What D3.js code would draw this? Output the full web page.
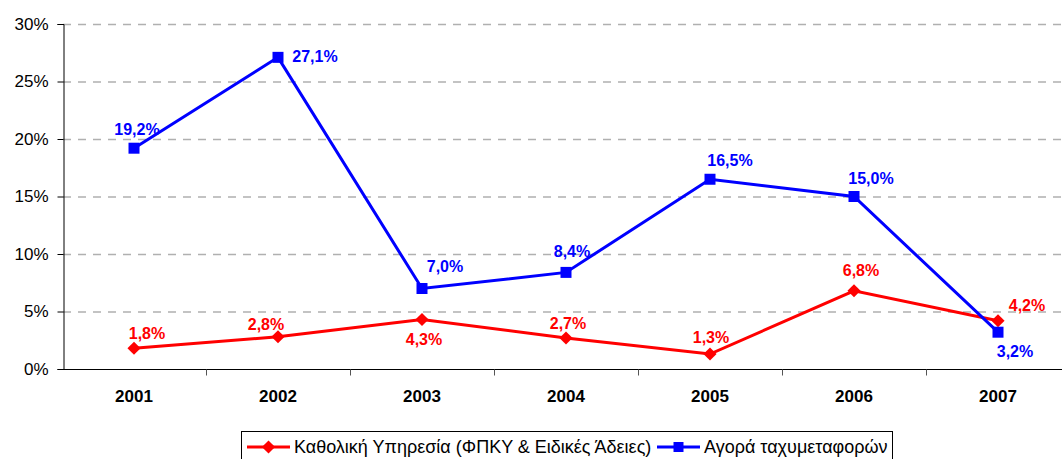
<!DOCTYPE html>
<html>
<head>
<meta charset="utf-8">
<script src="https://cdn.jsdelivr.net/npm/d3@7"></script>
<style>
  body { margin: 0; background: #fff; }
  svg { display: block; font-family: Arial, "Liberation Sans", sans-serif; }
</style>
</head>
<body>
<svg id="chart"></svg>
<script>
const years = ['2001', '2002', '2003', '2004', '2005', '2006', '2007'];
const universalService = [1.8, 2.8, 4.3, 2.7, 1.3, 6.8, 4.2];
const courierMarket = [19.2, 27.1, 7.0, 8.4, 16.5, 15.0, 3.2];
const yTicks = [0, 5, 10, 15, 20, 25, 30];
const seriesNames = ['Καθολική Υπηρεσία (ΦΠΚΥ & Ειδικές Άδειες)', 'Αγορά ταχυμεταφορών'];

// label nudges (dx, dy from marker), like the hand-placed excel labels
const redLabelShift = [[13, -15], [-12, -12], [2, 20], [2, -15], [1, -17], [7, -20], [29, -15]];
const blueLabelShift = [[3, -19], [37, -1], [23, -22], [6, -21], [20, -19], [17, -18], [17, 19]];

const width = 1062, height = 459;
const margin = { top: 24, left: 63, bottom: 369 };

const svg = d3.select('#chart')
    .attr('width', width)
    .attr('height', height);

const x = d3.scaleBand()
    .domain(years)
    .range([62, 1070])
    .padding(0);

const y = d3.scaleLinear()
    .domain([0, 30])
    .range([margin.bottom, margin.top]);

const fmt = (v) => d3.format('.1f')(v).replace('.', ',') + '%';

// gridlines
svg.append('g')
    .selectAll('line')
    .data(yTicks.filter((d) => d > 0))
    .enter()
    .append('line')
    .attr('x1', margin.left)
    .attr('x2', width)
    .attr('y1', (d) => y(d) + 0.5)
    .attr('y2', (d) => y(d) + 0.5)
    .style('stroke', '#b0b0b0')
    .style('stroke-width', 1.3)
    .style('stroke-dasharray', '8,7');

// y axis
const yAxis = svg.append('g')
    .attr('transform', `translate(${margin.left + 0.5},0)`)
    .call(d3.axisLeft(y).tickValues(yTicks).tickSize(6).tickPadding(9).tickFormat((d) => d + '%'));
yAxis.select('.domain').attr('stroke', '#000');
yAxis.selectAll('text')
    .attr('font-size', 17)
    .attr('font-family', 'Arial, "Liberation Sans", sans-serif')
    .attr('fill', '#000');

// x axis
const xAxis = svg.append('g')
    .attr('transform', `translate(0,${margin.bottom + 0.5})`)
    .call(d3.axisBottom(x).tickSize(0).tickPadding(20));
xAxis.select('.domain').remove();
xAxis.append('line')
    .attr('x1', margin.left)
    .attr('x2', width)
    .attr('stroke', '#000');
xAxis.selectAll('.tick text')
    .attr('font-size', 17)
    .attr('font-weight', 'bold')
    .attr('font-family', 'Arial, "Liberation Sans", sans-serif')
    .attr('fill', '#000');
xAxis.selectAll('.boundary')
    .data(years.slice(1))
    .enter()
    .append('line')
    .attr('class', 'boundary')
    .attr('x1', (d) => Math.round(x(d)) + 0.5)
    .attr('x2', (d) => Math.round(x(d)) + 0.5)
    .attr('y1', 0)
    .attr('y2', 6)
    .attr('stroke', '#555');

const cx = (i) => x(years[i]) + x.bandwidth() / 2;

const line = d3.line()
    .x((d, i) => cx(i))
    .y((d) => y(d));

const diamond = d3.symbol().type(d3.symbolDiamond2).size(110);

const drawSeries = (values, color, markerPath, shifts) => {
    const g = svg.append('g');
    g.append('path')
        .datum(values)
        .attr('d', line)
        .attr('fill', 'none')
        .attr('stroke', color)
        .attr('stroke-width', 3);
    g.selectAll('.marker')
        .data(values)
        .enter()
        .append('path')
        .attr('class', 'marker')
        .attr('d', markerPath)
        .attr('transform', (d, i) => `translate(${cx(i)},${y(d)})`)
        .attr('fill', color);
    g.selectAll('.lbl')
        .data(values)
        .enter()
        .append('text')
        .attr('class', 'lbl')
        .attr('x', (d, i) => cx(i) + shifts[i][0])
        .attr('y', (d, i) => y(d) + shifts[i][1])
        .attr('dy', '0.35em')
        .attr('text-anchor', 'middle')
        .attr('font-size', 16)
        .attr('font-weight', 'bold')
        .attr('fill', color)
        .text((d) => fmt(d));
};

drawSeries(universalService, '#ff0000', diamond, redLabelShift);
drawSeries(courierMarket, '#0000ff', 'M-5.5,-5.5H5.5V5.5H-5.5Z', blueLabelShift);

// legend
const legend = svg.append('g');
legend.append('rect')
    .attr('x', 241.5)
    .attr('y', 431.5)
    .attr('width', 651)
    .attr('height', 40)
    .attr('fill', '#fff')
    .attr('stroke', '#000');

const legendItems = [
    { name: seriesNames[0], color: '#ff0000', marker: diamond, x0: 247 },
    { name: seriesNames[1], color: '#0000ff', marker: 'M-5,-5H5V5H-5Z', x0: 657 }
];
legendItems.forEach((it) => {
    legend.append('line')
        .attr('x1', it.x0)
        .attr('x2', it.x0 + 43)
        .attr('y1', 447)
        .attr('y2', 447)
        .attr('stroke', it.color)
        .attr('stroke-width', 3);
    legend.append('path')
        .attr('d', it.marker)
        .attr('transform', `translate(${it.x0 + 21.5},447)`)
        .attr('fill', it.color);
    legend.append('text')
        .attr('x', it.x0 + 47)
        .attr('y', 447)
        .attr('dy', '0.35em')
        .attr('font-size', 18)
        .attr('fill', '#000')
        .text(it.name);
});
</script>
</body>
</html>
